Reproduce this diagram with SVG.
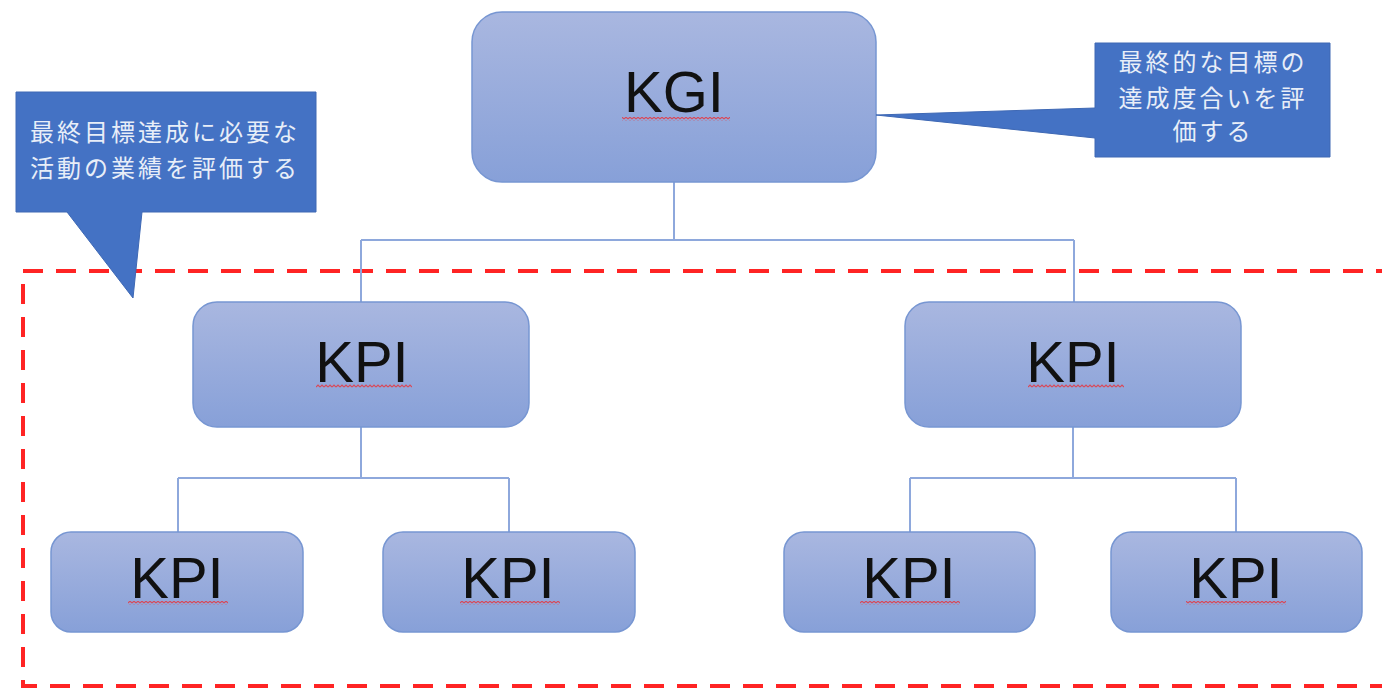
<svg xmlns="http://www.w3.org/2000/svg" width="1382" height="690" viewBox="0 0 1382 690">
<defs>
<linearGradient id="g" x1="0" y1="0" x2="0" y2="1">
<stop offset="0" stop-color="#a9b7e0"/>
<stop offset="1" stop-color="#87a0d8"/>
</linearGradient>
<pattern id="sq" width="4" height="4" patternUnits="userSpaceOnUse">
<path d="M0 3 L2 1 L4 3" stroke="#d84858" fill="none" stroke-width="1.2"/>
</pattern>
<style>
.box{fill:url(#g);stroke:#7796d2;stroke-width:1.5}
.lbl{font-family:"Liberation Sans",Arial,sans-serif;font-size:58px;fill:#111;text-anchor:middle}
.call{fill:#4472c4;stroke:#3e68b4;stroke-width:1}
.ct{font-family:"Noto Sans CJK JP",sans-serif;font-size:24px;fill:#e8eef8;letter-spacing:3px}
.conn{stroke:#8ea8dc;stroke-width:2;fill:none}
</style>
</defs>
<rect x="23" y="271" width="1400" height="415" fill="none" stroke="#ff2424" stroke-width="4" stroke-dasharray="20 13"/>
<g id="connectors">
<path class="conn" d="M674 182 V240 M361 240 H1074 M361 240 V302 M1074 240 V302"/>
<path class="conn" d="M361 427 V478 M178 478 H509 M178 478 V532 M509 478 V532"/>
<path class="conn" d="M1073 427 V478 M910 478 H1236 M910 478 V532 M1236 478 V532"/>
</g>
<g id="kgi">
<rect class="box" x="472" y="12" width="404" height="170" rx="30"/>
<text class="lbl" x="674" y="112">KGI</text>
<rect x="622" y="117" width="108" height="4" fill="url(#sq)"/>
</g>
<g id="kpi-mid-left">
<rect class="box" x="193" y="302" width="336" height="125" rx="24"/>
<text class="lbl" x="362" y="382">KPI</text>
<rect x="316" y="384" width="96" height="4" fill="url(#sq)"/>
</g>
<g id="kpi-mid-right">
<rect class="box" x="905" y="302" width="336" height="125" rx="24"/>
<text class="lbl" x="1073" y="382">KPI</text>
<rect x="1028" y="384" width="96" height="4" fill="url(#sq)"/>
</g>
<g id="kpi-bl1">
<rect class="box" x="51" y="532" width="252" height="100" rx="20"/>
<text class="lbl" x="177" y="598">KPI</text>
<rect x="128" y="601" width="100" height="4" fill="url(#sq)"/>
</g>
<g id="kpi-bl2">
<rect class="box" x="383" y="532" width="252" height="100" rx="20"/>
<text class="lbl" x="508" y="598">KPI</text>
<rect x="460" y="601" width="100" height="4" fill="url(#sq)"/>
</g>
<g id="kpi-br1">
<rect class="box" x="784" y="532" width="251" height="100" rx="20"/>
<text class="lbl" x="909" y="598">KPI</text>
<rect x="860" y="601" width="100" height="4" fill="url(#sq)"/>
</g>
<g id="kpi-br2">
<rect class="box" x="1111" y="532" width="251" height="100" rx="20"/>
<text class="lbl" x="1236" y="598">KPI</text>
<rect x="1186" y="601" width="100" height="4" fill="url(#sq)"/>
</g>
<g id="callout-left">
<path class="call" d="M16 92 H316 V212 H142 L133 298 L67 212 H16 Z"/>
<text class="ct" x="30" y="141">最終目標達成に必要な</text>
<text class="ct" x="30" y="177">活動の業績を評価する</text>
</g>
<g id="callout-right">
<path class="call" d="M1095 43 H1330 V157 H1095 V138 L876 115 L1095 108 Z"/>
<text class="ct" x="1213" y="71" text-anchor="middle">最終的な目標の</text>
<text class="ct" x="1213" y="107" text-anchor="middle">達成度合いを評</text>
<text class="ct" x="1213" y="140" text-anchor="middle">価する</text>
</g>
</svg>
